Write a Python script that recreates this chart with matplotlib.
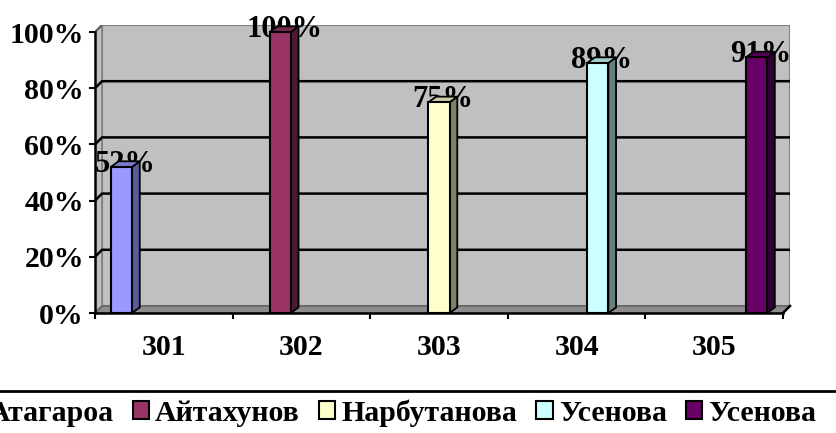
import matplotlib.pyplot as plt
from matplotlib.patches import Polygon, Rectangle, Patch
from matplotlib.lines import Line2D

groups = ['301', '302', '303', '304', '305']
teachers = ['Атагароа', 'Айтахунов', 'Нарбутанова', 'Усенова', 'Усенова']
# one row per teacher, one column per group (%)
values = [
    [52, 0, 0, 0, 0],
    [0, 100, 0, 0, 0],
    [0, 0, 75, 0, 0],
    [0, 0, 0, 89, 0],
    [0, 0, 0, 0, 91],
]
y_ticks = [0, 20, 40, 60, 80, 100]

face_colors = ['#9999FF', '#993366', '#FFFFCC', '#CCFFFF', '#660066']
side_colors = ['#5C5C99', '#4D1A33', '#80806A', '#668080', '#330033']
top_colors = ['#7A7ACC', '#7A2952', '#CCCCA3', '#A3CCCC', '#520052']

plt.rcParams['font.family'] = ['Liberation Serif', 'DejaVu Serif']
plt.rcParams['font.weight'] = 'bold'

W, H = 837, 433
fig = plt.figure(figsize=(W / 100, H / 100), dpi=100)
ax = fig.add_axes([95 / W, (H - 313) / H, 695 / W, 288 / H])

n = len(groups)
dx, dy = 0.051, 2.5      # wall depth (data units)
bdx, bdy = 0.056, 2.0    # bar depth
w = 1 / 6.5              # gap width 150%
off = 0.75 * w

ax.set_xlim(0, n + dx)
ax.set_ylim(0, 100 + dy)
ax.set_facecolor('none')

# walls and floor
ax.add_patch(Rectangle((dx, dy), n, 100, fc='#C0C0C0', ec='#808080', lw=1.5, zorder=0))
ax.add_patch(Polygon([(0, 0), (dx, dy), (dx, 100 + dy), (0, 100)],
                     fc='#C0C0C0', ec='#808080', lw=1.2, zorder=0))
ax.add_patch(Polygon([(0, 0), (n, 0), (n + dx, dy), (dx, dy)],
                     fc='#8C8C8C', ec='#606060', lw=1.0, zorder=1))
for v in y_ticks[1:-1]:
    ax.plot([0, dx, n + dx], [v, v + dy, v + dy], color='black', lw=1.8, zorder=1)
ax.plot([0, dx], [100, 100 + dy], color='#606060', lw=1.5, zorder=1)
ax.plot([n, n + dx], [0, dy], color='black', lw=1.8, zorder=2, clip_on=False)

# 3d bars
for i, row in enumerate(values):
    for j, v in enumerate(row):
        if v == 0:
            continue
        x0 = j + off + i * w
        x1 = x0 + w
        ax.add_patch(Polygon([(x1, 0), (x1 + bdx, bdy), (x1 + bdx, v + bdy), (x1, v)],
                             fc=side_colors[i], ec='black', lw=1.3, zorder=5))
        ax.add_patch(Polygon([(x0, v), (x1, v), (x1 + bdx, v + bdy), (x0 + bdx, v + bdy)],
                             fc=top_colors[i], ec='black', lw=1.3, zorder=5))
        ax.add_patch(Rectangle((x0, 0), w, v, fc=face_colors[i], ec='black', lw=1.5, zorder=6))
        ax.text(x0 + w / 2 + bdx / 2, v + bdy / 2, f'{v}%', ha='center', va='center',
                fontsize=22, zorder=4)

ax.set_yticks(y_ticks)
ax.set_yticklabels([f'{v}%' for v in y_ticks])
ax.set_xticks(range(n + 1))
ax.set_xticklabels([])
ax.set_xticks([j + 0.5 for j in range(n)], minor=True)
ax.set_xticklabels(groups, minor=True)
ax.tick_params(axis='both', which='major', direction='out', length=4, width=1.5,
               color='black', labelsize=21.5, pad=4)
ax.tick_params(axis='x', which='minor', length=0, labelsize=21.5, pad=15)

for s in ['top', 'right']:
    ax.spines[s].set_visible(False)
ax.spines['left'].set_bounds(0, 100)
ax.spines['bottom'].set_bounds(0, n)
for s in ['left', 'bottom']:
    ax.spines[s].set_linewidth(1.8)
    ax.spines[s].set_zorder(7)

# legend strip at the bottom (wider than the picture)
handles = [Patch(fc=c, ec='black', lw=1.5) for c in face_colors]
yc = 1 - 413 / H
leg = fig.legend(handles, teachers, loc='center left', bbox_to_anchor=(0, yc), ncol=5,
                 frameon=False, fontsize=21.5, handlelength=0.55, handleheight=0.55,
                 handletextpad=0.2, columnspacing=0.64, borderaxespad=0, borderpad=0)
fig.canvas.draw()
bb = leg.get_texts()[1].get_window_extent()
leg.set_bbox_to_anchor((0 + (155 - bb.x0) / W, yc), transform=fig.transFigure)
fig.add_artist(Line2D([0, 1], [1 - 391 / H] * 2, transform=fig.transFigure,
                      color='black', lw=2))

fig.savefig('out.png', dpi=100)
